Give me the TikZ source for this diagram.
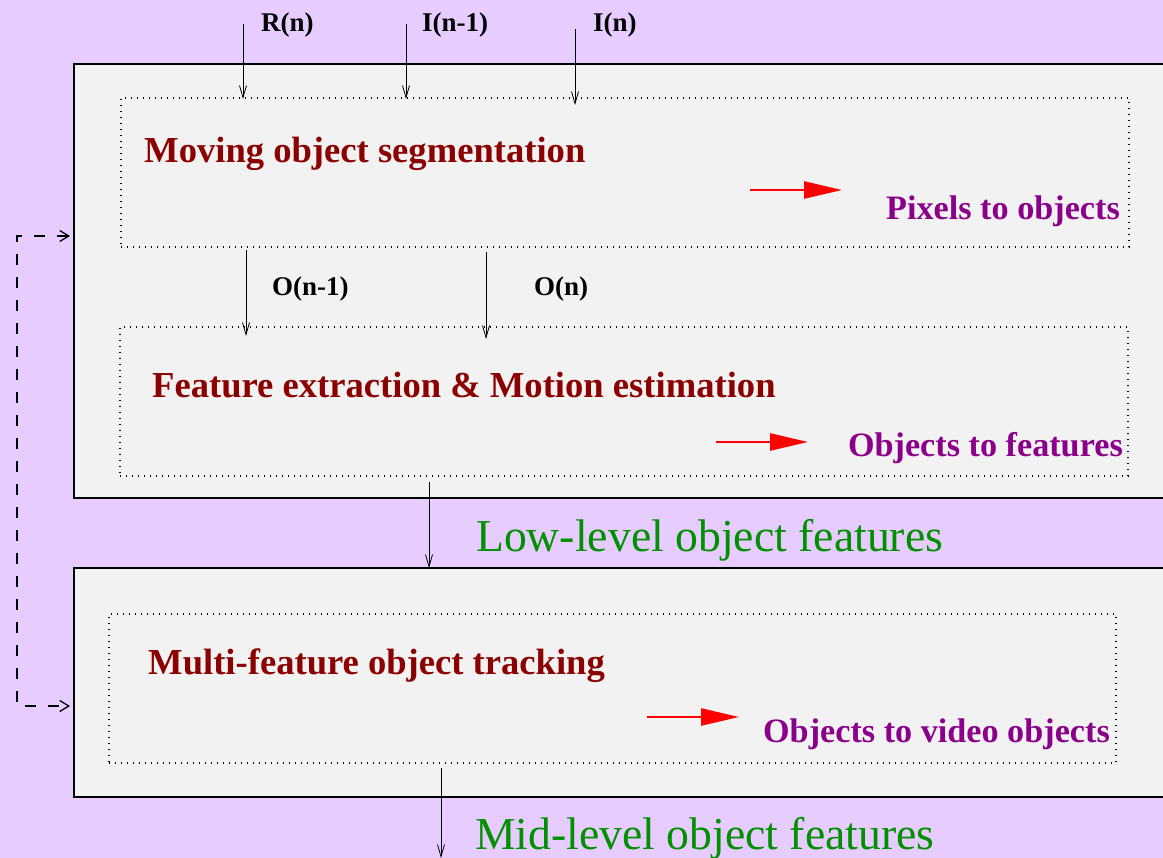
\documentclass[tikz,border=0pt]{standalone}
\usepackage{fontspec}
\setmainfont{Liberation Serif}
\usetikzlibrary{arrows.meta}
\definecolor{bgviolet}{HTML}{E6CCFF}
\definecolor{boxgray}{HTML}{F2F2F2}
\definecolor{stagered}{HTML}{8B0000}
\definecolor{levelgreen}{HTML}{009000}
\definecolor{rolepurple}{HTML}{8B008B}
\begin{document}
\begin{tikzpicture}[x=1pt,y=-1pt,line join=miter]
	\tikzset{
		outerbox/.style={draw=black,fill=boxgray,line width=1.3pt,inner sep=0pt,outer sep=0pt,anchor=north west},
		dotbox/.style={draw,line width=1.1pt,dash pattern=on 1pt off 5pt,inner sep=0pt,outer sep=0pt,anchor=north west},
		flow/.style={line width=0.8pt,-{Straight Barb[length=12pt,width=7pt]}},
		feedback/.style={line width=1.3pt,dash pattern=on 11pt off 12pt,{Straight Barb[length=9pt,width=11pt]}-{Straight Barb[length=9pt,width=11pt]}},
		maparrow/.style={red,line width=2.5pt,-{Triangle[length=38pt,width=17pt]}},
		signal/.style={font=\fontsize{27}{30}\bfseries\selectfont,anchor=base west,inner sep=0pt},
		stage/.style={text=stagered,font=\fontsize{36.6}{40}\bfseries\selectfont,anchor=base west,inner sep=0pt},
		role/.style={text=rolepurple,font=\fontsize{34.2}{38}\bfseries\selectfont,anchor=base east,inner sep=0pt},
		level/.style={text=levelgreen,font=\fontsize{45.7}{50}\selectfont,anchor=base west,inner sep=0pt}
	}
	\useasboundingbox (0,0) rectangle (1163,858);
	\fill[bgviolet] (0,0) rectangle (1163,858);
	\clip (0,0) rectangle (1163,858);
	
	\node[outerbox,minimum width=1110pt,minimum height=434pt] (lowbox) at (74,64) {};
	\node[outerbox,minimum width=1110pt,minimum height=229pt] (midbox) at (74,568) {};
	
	\node[dotbox,minimum width=1008pt,minimum height=149pt] (segbox) at (121,98) {};
	\node[dotbox,minimum width=1008pt,minimum height=149pt] (featbox) at (120,327) {};
	\node[dotbox,minimum width=1007pt,minimum height=149pt] (trackbox) at (109,614) {};
	
	\node[stage] (segtxt) at (144,163) {Moving object segmentation};
	\node[stage] (feattxt) at (152,398) {Feature extraction \& Motion estimation};
	\node[stage] (tracktxt) at (148,674) {Multi-feature object tracking};
	
	\node[role] (pixrole) at (1120,220) {Pixels to objects};
	\node[role] (objrole) at (1123,457) {Objects to features};
	\node[role] (vidrole) at (1110,742) {Objects to video objects};
	
	\node[level] (lowtxt) at (476,552) {Low-level object features};
	\node[level] (midtxt) at (475,849) {Mid-level object features};
	
	\node[signal] (rlab) at (261,32) {R(n)};
	\node[signal] (iprevlab) at (422,32) {I(n-1)};
	\node[signal] (ilab) at (593,32) {I(n)};
	\node[signal] (oprevlab) at (272,296) {O(n-1)};
	\node[signal] (olab) at (534,296) {O(n)};
	
	\coordinate (rin) at (243,24);   \coordinate (rout) at (243,99);
	\coordinate (iprevin) at (406,24); \coordinate (iprevout) at (406,99);
	\coordinate (iin) at (575,29);   \coordinate (iout) at (575,105);
	\coordinate (oprevin) at (246,250); \coordinate (oprevout) at (246,336);
	\coordinate (oin) at (486,252);  \coordinate (oout) at (486,339);
	\coordinate (lowin) at (429,482); \coordinate (lowout) at (429,568);
	\coordinate (midin) at (441,768); \coordinate (midout) at (441,858);
	\foreach \a/\b in {rin/rout,iprevin/iprevout,iin/iout,oprevin/oprevout,oin/oout,lowin/lowout,midin/midout}
		\draw[flow] (\a) -- (\b);
	
	\coordinate (fbtop) at (70,236);
	\coordinate (fbcorner) at (17,706);
	\coordinate (fbbot) at (70,706);
	\draw[feedback] (fbtop) -| (fbcorner) -- (fbbot);
	
	\coordinate (pixa) at (750,190); \coordinate (pixb) at (842,190);
	\coordinate (obja) at (716,442); \coordinate (objb) at (808,442);
	\coordinate (vida) at (647,717); \coordinate (vidb) at (739,717);
	\foreach \a/\b in {pixa/pixb,obja/objb,vida/vidb}
		\draw[maparrow] (\a) -- (\b);
\end{tikzpicture}
\end{document}
